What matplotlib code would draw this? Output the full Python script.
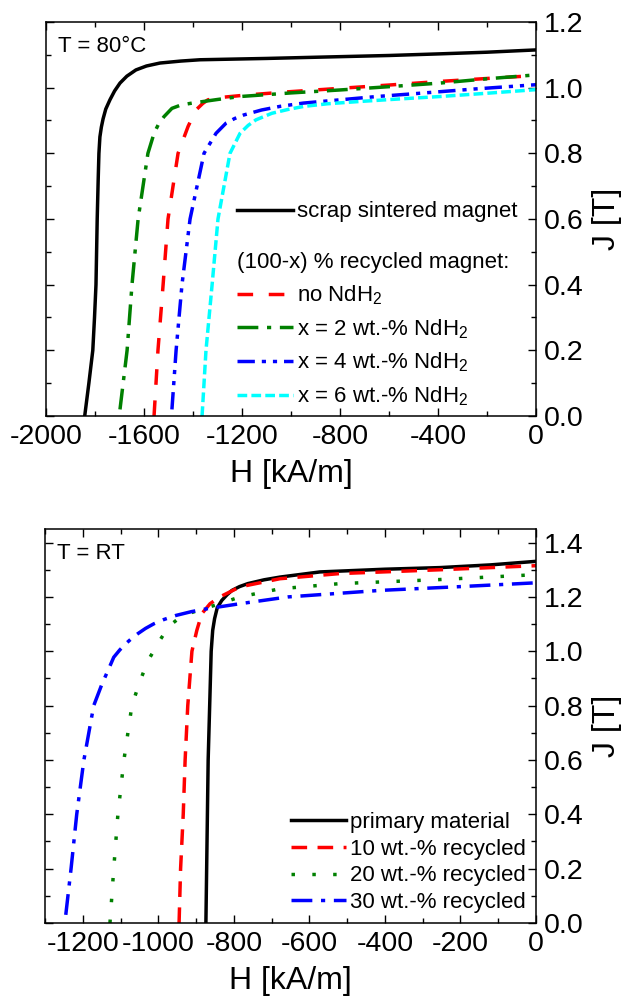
import matplotlib
matplotlib.use("Agg")
import matplotlib.pyplot as plt
from matplotlib.ticker import MultipleLocator, FormatStrFormatter

plt.rcParams['font.family'] = ['Liberation Sans', 'DejaVu Sans']
plt.rcParams['mathtext.fontset'] = 'custom'
plt.rcParams['mathtext.rm'] = 'Liberation Sans'
plt.rcParams['mathtext.default'] = 'regular'
plt.rcParams['axes.unicode_minus'] = False

# ---------------- Data: T = 80 °C ----------------
H_scrap = [-1842, -1825, -1809, -1802, -1796, -1791, -1787, -1784, -1780, -1774, -1767, -1756,
           -1739, -1720, -1698, -1670, -1633, -1590, -1535, -1450, -1371, -1100, -881, -600,
           -392, -200, 0]
J_scrap = [0.0, 0.1, 0.2, 0.3, 0.4, 0.6, 0.72, 0.8, 0.85, 0.88, 0.905, 0.935,
           0.963, 0.99, 1.014, 1.035, 1.054, 1.066, 1.075, 1.081, 1.085, 1.089, 1.093, 1.098,
           1.103, 1.108, 1.115]

H_noNdH2 = [-1559, -1543, -1522, -1502, -1461, -1420, -1388, -1360, -1339, -1290, -1176, -1000,
            -800, -600, -392, -200, 0]
J_noNdH2 = [0.0, 0.2, 0.4, 0.6, 0.8, 0.882, 0.932, 0.952, 0.963, 0.970, 0.978, 0.988,
            0.998, 1.008, 1.019, 1.028, 1.037]

H_x2 = [-1698, -1669, -1649, -1624, -1584, -1559, -1540, -1518, -1486, -1450, -1404, -1300,
        -1208, -1000, -800, -600, -392, -200, 0]
J_x2 = [0.02, 0.2, 0.4, 0.6, 0.8, 0.861, 0.89, 0.912, 0.937, 0.947, 0.953, 0.964,
        0.973, 0.984, 0.993, 1.003, 1.014, 1.027, 1.039]

H_x4 = [-1486, -1469, -1445, -1412, -1355, -1306, -1265, -1230, -1192, -1120, -1045, -950,
        -800, -650, -473, -250, 0]
J_x4 = [0.02, 0.2, 0.4, 0.6, 0.8, 0.861, 0.892, 0.906, 0.917, 0.932, 0.943, 0.953,
        0.963, 0.973, 0.983, 0.996, 1.009]

H_x6 = [-1363, -1347, -1322, -1298, -1249, -1208, -1175, -1143, -1078, -1010, -947, -850,
        -718, -550, -392, -200, 0]
J_x6 = [0.0, 0.2, 0.4, 0.6, 0.8, 0.861, 0.885, 0.902, 0.922, 0.934, 0.943, 0.951,
        0.958, 0.966, 0.973, 0.983, 0.994]

# ---------------- Data: T = RT ----------------
H_prim = [-874, -872, -868, -864, -860, -856, -851, -844, -832, -818, -805, -785, -763, -720,
          -678, -572, -400, -254, -120, 0]
J_prim = [0.0, 0.2, 0.6, 0.8, 1.0, 1.077, 1.12, 1.16, 1.187, 1.208, 1.224, 1.238, 1.249, 1.263,
          1.273, 1.292, 1.302, 1.308, 1.318, 1.331]

H_r10 = [-945, -941, -934, -929, -922, -911, -898, -885, -863, -837, -784, -678, -519, -254, 0]
J_r10 = [0.0, 0.2, 0.4, 0.6, 0.8, 1.0, 1.077, 1.138, 1.175, 1.2, 1.237, 1.267, 1.286, 1.30, 1.315]

H_r20 = [-1128, -1118, -1107, -1091, -1070, -1051, -1036, -1022, -996, -980, -964, -945, -922,
         -879, -837, -784, -678, -519, -254, 0]
J_r20 = [0.0, 0.2, 0.4, 0.6, 0.8, 0.88, 0.935, 0.978, 1.04, 1.075, 1.101, 1.122, 1.138,
         1.157, 1.175, 1.2, 1.23, 1.249, 1.264, 1.282]

H_r30 = [-1245, -1231, -1216, -1197, -1171, -1149, -1133, -1118, -1102, -1086, -1070, -1054,
         -1034, -1012, -985, -953, -912, -869, -784, -657, -413, -200, 0]
J_r30 = [0.03, 0.2, 0.4, 0.6, 0.8, 0.88, 0.93, 0.978, 1.005, 1.028, 1.048, 1.065,
         1.084, 1.101, 1.117, 1.132, 1.146, 1.157, 1.175, 1.2, 1.224, 1.238, 1.252]

labels_top = ["scrap sintered magnet", "no NdH$_2$", "x = 2 wt.-% NdH$_2$",
              "x = 4 wt.-% NdH$_2$", "x = 6 wt.-% NdH$_2$"]
title_top = "(100-x) % recycled magnet:"
labels_bot = ["primary material", "10 wt.-% recycled", "20 wt.-% recycled", "30 wt.-% recycled"]

LW = 2.5

fig = plt.figure(figsize=(6.26, 9.98), dpi=100)
ax1 = fig.add_axes([46/626, 1-416/998, 490/626, 394/998])
ax2 = fig.add_axes([45/626, 1-923/998, 491/626, 394/998])

# ---- top panel ----
l0, = ax1.plot(H_scrap, J_scrap, color='black', lw=LW)
l1, = ax1.plot(H_noNdH2, J_noNdH2, color='#ff0000', lw=LW, dashes=(4.5, 4.5))
l2, = ax1.plot(H_x2, J_x2, color='#008000', lw=LW, dashes=(6, 2.5, 1.2, 2.5))
l3, = ax1.plot(H_x4, J_x4, color='#0000ff', lw=LW, dashes=(5, 2, 1.2, 2, 1.2, 2))
l4, = ax1.plot(H_x6, J_x6, color='#00ffff', lw=LW, dashes=(2.8, 1.2))

ax1.set_xlim(-2000, 0)
ax1.set_ylim(0, 1.2)
ax1.xaxis.set_major_locator(MultipleLocator(400))
ax1.xaxis.set_minor_locator(MultipleLocator(200))
ax1.yaxis.set_major_locator(MultipleLocator(0.2))
ax1.yaxis.set_minor_locator(MultipleLocator(0.1))
ax1.text(0.025, 0.965, "T = 80°C", transform=ax1.transAxes, fontsize=16, va='top', ha='left')

leg1 = ax1.legend([l0], [labels_top[0]], loc='center left', bbox_to_anchor=(0.39, 0.518),
                  frameon=False, fontsize=16, handlelength=2.5, handletextpad=0.2,
                  borderpad=0, borderaxespad=0)
ax1.add_artist(leg1)
leg2 = ax1.legend([l1, l2, l3, l4], labels_top[1:], title=title_top, title_fontsize=16,
                  loc='upper left', bbox_to_anchor=(0.39, 0.415), alignment='left',
                  frameon=False, fontsize=16, handlelength=2.5, handletextpad=0.2,
                  borderpad=0, borderaxespad=0, labelspacing=0.45)

# ---- bottom panel ----
m0, = ax2.plot(H_prim, J_prim, color='black', lw=LW)
m1, = ax2.plot(H_r10, J_r10, color='#ff0000', lw=LW, dashes=(4.5, 3))
m2, = ax2.plot(H_r20, J_r20, color='#008000', lw=LW, dashes=(1, 5))
m3, = ax2.plot(H_r30, J_r30, color='#0000ff', lw=LW, dashes=(6, 2.5, 1.2, 2.5))

ax2.set_xlim(-1300, 0)
ax2.set_ylim(0, 1.45)
ax2.xaxis.set_major_locator(MultipleLocator(200))
ax2.xaxis.set_minor_locator(MultipleLocator(100))
ax2.yaxis.set_major_locator(MultipleLocator(0.2))
ax2.yaxis.set_minor_locator(MultipleLocator(0.1))
ax2.text(0.025, 0.965, "T = RT", transform=ax2.transAxes, fontsize=16, va='top', ha='left')
ax2.legend([m0, m1, m2, m3], labels_bot, loc='lower left', bbox_to_anchor=(0.5, 0.025),
           frameon=False, fontsize=16, handlelength=2.5, handletextpad=0.2,
           borderpad=0, borderaxespad=0, labelspacing=0.26)

for ax in (ax1, ax2):
    ax.yaxis.set_major_formatter(FormatStrFormatter('%.1f'))
    ax.tick_params(which='both', direction='in', top=True, bottom=True, left=True, right=True,
                   labelleft=False, labelright=True, width=1.0)
    ax.tick_params(which='major', length=6, labelsize=20.5, pad=6)
    ax.tick_params(which='minor', length=3.5)
    for s in ax.spines.values():
        s.set_linewidth(1.1)
    ax.yaxis.set_label_position('right')
    ax.set_ylabel("J [T]", fontsize=23, labelpad=6)
    ax.set_xlabel("H [kA/m]", fontsize=23, labelpad=6)

fig.savefig("out.png", dpi=100)
